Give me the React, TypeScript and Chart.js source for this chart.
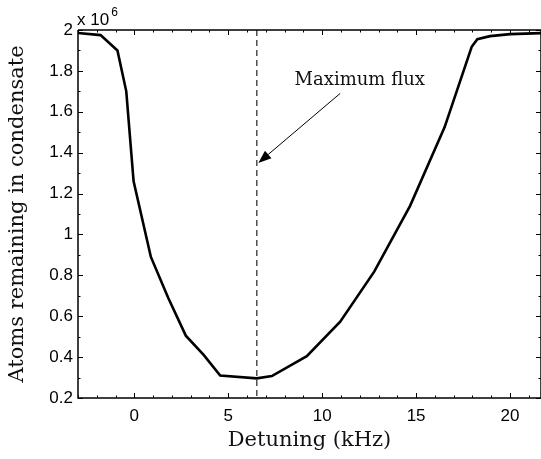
import React, { useEffect, useRef } from "react";
import { Chart, registerables } from "chart.js";

Chart.register(...registerables);

const detuning = [-3, -1.8, -0.9, -0.43, -0.04, 0.88, 1.8, 2.74, 3.7, 4.57, 6.52, 7.32, 9.18, 10.96, 12.77, 14.68, 16.52, 17.96, 18.26, 18.94, 20, 21.7];
const atoms = [1.985, 1.975, 1.9, 1.7, 1.26, 0.89, 0.69, 0.505, 0.41, 0.31, 0.296, 0.307, 0.405, 0.573, 0.818, 1.14, 1.525, 1.918, 1.955, 1.97, 1.98, 1.985];
const xTicks = [0, 5, 10, 15, 20];
const yTicks = [0.2, 0.4, 0.6, 0.8, 1, 1.2, 1.4, 1.6, 1.8, 2];
const yTickLabels = ["0.2", "0.4", "0.6", "0.8", "1", "1.2", "1.4", "1.6", "1.8", "2"];
const maxFluxX = 6.52;
const annotationText = "Maximum flux";
const arrowFrom = { x: 10.96, y: 1.69 };
const arrowTo = { x: 6.6, y: 1.35 };
const textPos = { x: 12.0, y: 1.755 };

const X_MIN = -3;
const X_MAX = 21.65;
const Y_MIN = 0.2;
const Y_MAX = 2;

const decorPlugin = {
  id: "decor",
  afterDatasetsDraw(chart: any) {
    const ctx = chart.ctx as CanvasRenderingContext2D;
    const { left, right, top, bottom } = chart.chartArea;
    const xs = chart.scales.x;
    const ys = chart.scales.y;
    ctx.save();
    // dashed vertical line
    ctx.strokeStyle = "#333";
    ctx.lineWidth = 1.3;
    ctx.setLineDash([6, 4]);
    const vx = xs.getPixelForValue(maxFluxX);
    ctx.beginPath();
    ctx.moveTo(vx, top);
    ctx.lineTo(vx, bottom);
    ctx.stroke();
    ctx.setLineDash([]);

    // box
    ctx.strokeStyle = "#000";
    ctx.lineWidth = 1.5;
    ctx.beginPath();
    ctx.moveTo(left, top);
    ctx.lineTo(right, top);
    ctx.moveTo(left, top);
    ctx.lineTo(left, bottom);
    ctx.lineTo(right, bottom);
    ctx.moveTo(right, top);
    ctx.lineTo(right, bottom);
    ctx.stroke();

    // ticks
    ctx.lineWidth = 1;
    ctx.beginPath();
    for (let v = Math.ceil(X_MIN); v <= X_MAX; v += 1) {
      const px = Math.round(xs.getPixelForValue(v)) + 0.5;
      const len = v % 5 === 0 ? 5 : 2.5;
      ctx.moveTo(px, bottom);
      ctx.lineTo(px, bottom - len);
      ctx.moveTo(px, top);
      ctx.lineTo(px, top + len);
    }
    for (let i = 2; i <= 20; i += 1) {
      const v = i / 10;
      const py = Math.round(ys.getPixelForValue(v)) + 0.5;
      const len = i % 2 === 0 ? 5 : 2.5;
      ctx.moveTo(left, py);
      ctx.lineTo(left + len, py);
      ctx.moveTo(right, py);
      ctx.lineTo(right - len, py);
    }
    ctx.stroke();

    // arrow
    const ax0 = xs.getPixelForValue(arrowFrom.x);
    const ay0 = ys.getPixelForValue(arrowFrom.y);
    const ax1 = xs.getPixelForValue(arrowTo.x);
    const ay1 = ys.getPixelForValue(arrowTo.y);
    const ang = Math.atan2(ay1 - ay0, ax1 - ax0);
    const headLen = 13;
    const headW = 5;
    const bx = ax1 - headLen * Math.cos(ang);
    const by = ay1 - headLen * Math.sin(ang);
    ctx.lineWidth = 1;
    ctx.beginPath();
    ctx.moveTo(ax0, ay0);
    ctx.lineTo(bx, by);
    ctx.stroke();
    ctx.fillStyle = "#000";
    ctx.beginPath();
    ctx.moveTo(ax1, ay1);
    ctx.lineTo(bx + headW * Math.sin(ang), by - headW * Math.cos(ang));
    ctx.lineTo(bx - headW * Math.sin(ang), by + headW * Math.cos(ang));
    ctx.closePath();
    ctx.fill();

    // annotation text
    ctx.font = "18px 'DejaVu Serif'";
    ctx.textAlign = "center";
    ctx.textBaseline = "middle";
    ctx.fillStyle = "#111";
    ctx.fillText(annotationText, xs.getPixelForValue(textPos.x), ys.getPixelForValue(textPos.y));

    // exponent
    ctx.textAlign = "left";
    ctx.textBaseline = "alphabetic";
    ctx.fillStyle = "#000";
    ctx.font = "17px 'Liberation Sans'";
    ctx.fillText("x 10", left - 1, top - 5);
    const w = ctx.measureText("x 10").width;
    ctx.font = "12px 'Liberation Sans'";
    ctx.fillText("6", left + w + 1, top - 14);
    ctx.restore();
  },
};

export default function App() {
  const ref = useRef<HTMLCanvasElement | null>(null);
  useEffect(() => {
    document.body.style.margin = "0";
    const canvas = ref.current;
    if (!canvas) return;
    const chart = new Chart(canvas, {
      type: "line",
      data: {
        datasets: [
          {
            data: detuning.map((x, i) => ({ x, y: atoms[i] })),
            borderColor: "#000",
            borderWidth: 2.6,
            pointRadius: 0,
            tension: 0,
            fill: false,
          },
        ],
      },
      options: {
        responsive: false,
        animation: false,
        layout: { padding: { top: 30, right: 0, left: 0, bottom: 0 } },
        plugins: { legend: { display: false }, tooltip: { enabled: false } },
        scales: {
          x: {
            type: "linear",
            min: X_MIN,
            max: X_MAX,
            afterBuildTicks: (s: any) => {
              s.ticks = xTicks.map((v) => ({ value: v }));
            },
            afterFit: (s: any) => {
              s.height = 61;
            },
            grid: { display: false, drawTicks: false },
            border: { display: false },
            ticks: {
              padding: 8,
              color: "#000",
              font: { family: "'Liberation Sans'", size: 17 },
              maxRotation: 0,
              autoSkip: false,
            },
            title: {
              display: true,
              text: "Detuning (kHz)",
              color: "#111",
              font: { family: "'DejaVu Serif'", size: 21 },
              padding: { top: 0, bottom: 6 },
            },
          },
          y: {
            type: "linear",
            min: Y_MIN,
            max: Y_MAX,
            afterBuildTicks: (s: any) => {
              s.ticks = yTicks.map((v) => ({ value: v }));
            },
            afterFit: (s: any) => {
              s.width = 78;
            },
            grid: { display: false, drawTicks: false },
            border: { display: false },
            ticks: {
              padding: 5,
              color: "#000",
              font: { family: "'Liberation Sans'", size: 17 },
              autoSkip: false,
              callback: (v: any) => {
                const i = yTicks.findIndex((t) => Math.abs(t - Number(v)) < 1e-9);
                return i >= 0 ? yTickLabels[i] : "";
              },
            },
            title: {
              display: true,
              text: "Atoms remaining in condensate",
              color: "#111",
              font: { family: "'DejaVu Serif'", size: 21 },
              padding: { top: 5, bottom: 0 },
            },
          },
        },
      },
      plugins: [decorPlugin],
    });
    return () => chart.destroy();
  }, []);
  return (
    <div style={{ position: "absolute", left: 0, top: 0, width: 541, height: 459, background: "#fff" }}>
      <canvas ref={ref} width={541} height={459} style={{ display: "block" }} />
    </div>
  );
}
